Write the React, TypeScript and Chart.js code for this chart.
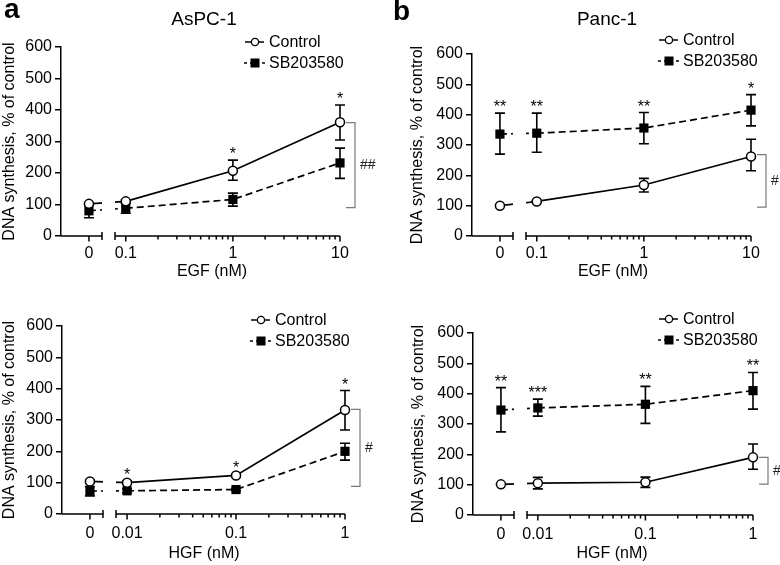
import React, { useEffect, useRef } from "react";
import { Chart, registerables } from "chart.js";

Chart.register(...registerables);

const FONT = "'Liberation Sans', Arial, Helvetica, sans-serif";
Chart.defaults.font.family = FONT;

// ---------------- data ----------------
const egfConc = [0, 0.1, 1, 10];
const egfTickLabels = ["0", "0.1", "1", "10"];
const hgfConc = [0, 0.01, 0.1, 1];
const hgfTickLabels = ["0", "0.01", "0.1", "1"];
const yTickValues = [0, 100, 200, 300, 400, 500, 600];
const seriesNames = ["Control", "SB203580"];

// AsPC-1, EGF
const aspcEgfControl = [102, 110, 207, 361];
const aspcEgfControlHi = [106, 115, 241, 416];
const aspcEgfControlLo = [98, 105, 177, 305];
const aspcEgfSB = [80, 88, 116, 232];
const aspcEgfSBHi = [102, 104, 136, 279];
const aspcEgfSBLo = [58, 72, 95, 183];
const aspcEgfStars = ["", "", "*", "*"];
const aspcEgfBracket = [360, 90];

// Panc-1, EGF
const pancEgfControl = [100, 114, 168, 262];
const pancEgfControlHi = [102, 117, 190, 319];
const pancEgfControlLo = [98, 111, 145, 215];
const pancEgfSB = [336, 339, 356, 415];
const pancEgfSBHi = [405, 405, 407, 466];
const pancEgfSBLo = [270, 276, 304, 363];
const pancEgfStars = ["**", "**", "**", "*"];
const pancEgfBracket = [268, 95];

// AsPC-1, HGF
const aspcHgfControl = [104, 100, 123, 332];
const aspcHgfControlHi = [108, 105, 127, 394];
const aspcHgfControlLo = [100, 95, 119, 268];
const aspcHgfSB = [73, 74, 78, 200];
const aspcHgfSBHi = [88, 80, 82, 226];
const aspcHgfSBLo = [58, 68, 74, 172];
const aspcHgfStars = ["", "*", "*", "*"];
const aspcHgfBracket = [334, 88];

// Panc-1, HGF
const pancHgfControl = [101, 105, 108, 190];
const pancHgfControlHi = [103, 124, 125, 234];
const pancHgfControlLo = [99, 86, 91, 151];
const pancHgfSB = [346, 353, 365, 410];
const pancHgfSBHi = [420, 382, 424, 470];
const pancHgfSBLo = [274, 326, 302, 349];
const pancHgfStars = ["**", "***", "**", "**"];
const pancHgfBracket = [190, 102];

// ---------------- panels ----------------
const panels = [
  {
    key: "aTop", letter: "a", title: "AsPC-1", xTitle: "EGF (nM)",
    conc: egfConc, tickLabels: egfTickLabels, logMin: 0.069,
    ctrl: aspcEgfControl, ctrlHi: aspcEgfControlHi, ctrlLo: aspcEgfControlLo,
    sb: aspcEgfSB, sbHi: aspcEgfSBHi, sbLo: aspcEgfSBLo,
    stars: aspcEgfStars, bracket: aspcEgfBracket, bracketLabel: "##",
    box: { left: 0, top: 0, width: 390, height: 280 },
    padLeft: 0, yWidth: 61, padTop: 47, padRight: 50, xHeight: 44, tickPad: 2,
    legend: { x: 269, y: 42 }, letterPos: { x: 4, y: 18 }, titlePos: { x: 204, y: 20 },
    xTitleX: 212, xTitleDy: 36,
  },
  {
    key: "bTop", letter: "b", title: "Panc-1", xTitle: "EGF (nM)",
    conc: egfConc, tickLabels: egfTickLabels, logMin: 0.069,
    ctrl: pancEgfControl, ctrlHi: pancEgfControlHi, ctrlLo: pancEgfControlLo,
    sb: pancEgfSB, sbHi: pancEgfSBHi, sbLo: pancEgfSBLo,
    stars: pancEgfStars, bracket: pancEgfBracket, bracketLabel: "#",
    box: { left: 390, top: 0, width: 390, height: 280 },
    padLeft: 18, yWidth: 64, padTop: 54, padRight: 29, xHeight: 44, tickPad: 2,
    legend: { x: 293, y: 40 }, letterPos: { x: 3, y: 20 }, titlePos: { x: 217, y: 20 },
    xTitleX: 223, xTitleDy: 36,
  },
  {
    key: "aBot", letter: "", title: "", xTitle: "HGF (nM)",
    conc: hgfConc, tickLabels: hgfTickLabels, logMin: 0.0069,
    ctrl: aspcHgfControl, ctrlHi: aspcHgfControlHi, ctrlLo: aspcHgfControlLo,
    sb: aspcHgfSB, sbHi: aspcHgfSBHi, sbLo: aspcHgfSBLo,
    stars: aspcHgfStars, bracket: aspcHgfBracket, bracketLabel: "#",
    box: { left: 0, top: 280, width: 390, height: 285 },
    padLeft: 0, yWidth: 62, padTop: 46, padRight: 45, xHeight: 51, tickPad: 4,
    legend: { x: 275, y: 40 }, letterPos: null, titlePos: null,
    xTitleX: 204, xTitleDy: 39.5,
  },
  {
    key: "bBot", letter: "", title: "", xTitle: "HGF (nM)",
    conc: hgfConc, tickLabels: hgfTickLabels, logMin: 0.0069,
    ctrl: pancHgfControl, ctrlHi: pancHgfControlHi, ctrlLo: pancHgfControlLo,
    sb: pancHgfSB, sbHi: pancHgfSBHi, sbLo: pancHgfSBLo,
    stars: pancHgfStars, bracket: pancHgfBracket, bracketLabel: "#",
    box: { left: 390, top: 280, width: 390, height: 285 },
    padLeft: 19, yWidth: 64, padTop: 53, padRight: 27, xHeight: 50, tickPad: 4,
    legend: { x: 293, y: 39 }, letterPos: null, titlePos: null,
    xTitleX: 222, xTitleDy: 38.5,
  },
];

const X0_WIDTH = 47.5; // width of the "0" segment of the broken axis
const GAP = 6.5; // half width of the axis break
const DASH = [7, 4];

const decoPlugin = {
  id: "deco",
  beforeDatasetsDraw(chart: any) {
    const p = chart.options.plugins.deco.panel;
    const ctx = chart.ctx;
    const xs = chart.scales.x, x0 = chart.scales.x0, ys = chart.scales.y;
    const ca = chart.chartArea;
    const px = (c: number) => (c === 0 ? x0.getPixelForValue(0) : xs.getPixelForValue(c));
    ctx.save();
    ctx.strokeStyle = "#000";
    ctx.lineWidth = 1.6;
    ctx.setLineDash([]);
    const series = [[p.ctrlHi, p.ctrlLo], [p.sbHi, p.sbLo]];
    for (const [hi, lo] of series) {
      p.conc.forEach((c: number, i: number) => {
        const x = px(c);
        const yh = ys.getPixelForValue(hi[i]);
        const yl = ys.getPixelForValue(lo[i]);
        ctx.beginPath();
        ctx.moveTo(x, yh); ctx.lineTo(x, yl);
        ctx.moveTo(x - 5, yh); ctx.lineTo(x + 5, yh);
        ctx.moveTo(x - 5, yl); ctx.lineTo(x + 5, yl);
        ctx.stroke();
      });
    }
    // segments crossing the axis break
    const S = xs.left;
    ctx.beginPath();
    ctx.rect(ca.left, ca.top - 30, S - GAP - ca.left, ca.bottom - ca.top + 30);
    ctx.rect(S + GAP, ca.top - 30, ca.right - S - GAP, ca.bottom - ca.top + 30);
    ctx.clip();
    const zi = p.conc.indexOf(0);
    const fi = zi + 1;
    const lines: [number[], number[]][] = [[p.ctrl, []], [p.sb, DASH]];
    for (const [vals, dash] of lines) {
      ctx.setLineDash(dash);
      ctx.beginPath();
      ctx.moveTo(px(p.conc[zi]), ys.getPixelForValue(vals[zi]));
      ctx.lineTo(px(p.conc[fi]), ys.getPixelForValue(vals[fi]));
      ctx.stroke();
    }
    ctx.restore();
  },
  afterDraw(chart: any) {
    const p = chart.options.plugins.deco.panel;
    const ctx = chart.ctx;
    const xs = chart.scales.x, x0 = chart.scales.x0, ys = chart.scales.y;
    const ca = chart.chartArea;
    const px = (c: number) => (c === 0 ? x0.getPixelForValue(0) : xs.getPixelForValue(c));
    ctx.save();
    ctx.setLineDash([]);
    ctx.strokeStyle = "#000";
    ctx.fillStyle = "#000";
    ctx.lineWidth = 1.5;
    // broken x axis
    const yb = ca.bottom;
    const S = xs.left;
    ctx.beginPath();
    ctx.moveTo(ca.left, yb); ctx.lineTo(S - GAP, yb);
    ctx.moveTo(S + GAP, yb); ctx.lineTo(ca.right, yb);
    ctx.moveTo(S - GAP, yb - 4); ctx.lineTo(S - GAP, yb + 4);
    ctx.moveTo(S + GAP, yb - 4); ctx.lineTo(S + GAP, yb + 4);
    // tick at 0
    const zx = x0.getPixelForValue(0);
    ctx.moveTo(zx, yb); ctx.lineTo(zx, yb + 5.5);
    // log ticks
    const pos = p.conc.filter((c: number) => c > 0);
    const first = pos[0], last = pos[pos.length - 1];
    pos.forEach((c: number) => {
      const x = xs.getPixelForValue(c);
      ctx.moveTo(x, yb); ctx.lineTo(x, yb + 5.5);
    });
    for (let d = first; d < last * 0.999; d *= 10) {
      for (let m = 2; m <= 9; m++) {
        const x = xs.getPixelForValue(d * m);
        ctx.moveTo(x, yb); ctx.lineTo(x, yb + 3.5);
      }
    }
    ctx.stroke();

    // x title
    ctx.font = `16px ${FONT}`;
    ctx.textAlign = "center";
    ctx.textBaseline = "middle";
    ctx.fillText(p.xTitle, p.xTitleX, yb + p.xTitleDy);

    // panel letter and title
    if (p.letterPos) {
      ctx.font = `bold 28px ${FONT}`;
      ctx.textAlign = "left";
      ctx.textBaseline = "alphabetic";
      ctx.fillText(p.letter, p.letterPos.x, p.letterPos.y);
    }
    if (p.titlePos) {
      ctx.font = `19px ${FONT}`;
      ctx.textAlign = "center";
      ctx.textBaseline = "middle";
      ctx.fillText(p.title, p.titlePos.x, p.titlePos.y);
    }

    // stars
    ctx.font = `16px ${FONT}`;
    ctx.textAlign = "center";
    ctx.textBaseline = "alphabetic";
    p.stars.forEach((s: string, i: number) => {
      if (!s) return;
      const top = Math.max(p.ctrlHi[i], p.sbHi[i]);
      ctx.fillText(s, px(p.conc[i]), ys.getPixelForValue(top) - 1);
    });

    // bracket
    const bx = ca.right + 15;
    const yt = ys.getPixelForValue(p.bracket[0]);
    const ybk = ys.getPixelForValue(p.bracket[1]);
    ctx.strokeStyle = "#7a7a7a";
    ctx.lineWidth = 1.2;
    ctx.beginPath();
    ctx.moveTo(bx - 9, yt); ctx.lineTo(bx, yt); ctx.lineTo(bx, ybk); ctx.lineTo(bx - 9, ybk);
    ctx.stroke();
    ctx.fillStyle = "#222";
    ctx.font = `14px ${FONT}`;
    ctx.textAlign = "left";
    ctx.textBaseline = "middle";
    ctx.fillText(p.bracketLabel, bx + 5, (yt + ybk) / 2);

    // legend
    const lg = p.legend;
    const rowGap = 21;
    ctx.fillStyle = "#000";
    ctx.strokeStyle = "#000";
    ctx.lineWidth = 1.5;
    ctx.beginPath();
    ctx.moveTo(lg.x - 24, lg.y); ctx.lineTo(lg.x - 5, lg.y);
    ctx.stroke();
    ctx.beginPath();
    ctx.arc(lg.x - 14, lg.y, 3.6, 0, Math.PI * 2);
    ctx.fillStyle = "#fff";
    ctx.fill();
    ctx.lineWidth = 1.3;
    ctx.stroke();
    const y2 = lg.y + rowGap;
    ctx.lineWidth = 1.5;
    ctx.setLineDash([3, 3]);
    ctx.beginPath();
    ctx.moveTo(lg.x - 25, y2); ctx.lineTo(lg.x - 4, y2);
    ctx.stroke();
    ctx.setLineDash([]);
    ctx.fillStyle = "#000";
    ctx.fillRect(lg.x - 18.5, y2 - 4.5, 9, 9);
    ctx.font = `16px ${FONT}`;
    ctx.textAlign = "left";
    ctx.textBaseline = "middle";
    ctx.fillText(seriesNames[0], lg.x, lg.y + 1);
    ctx.fillText(seriesNames[1], lg.x, y2 + 1);
    ctx.restore();
  },
};

function buildConfig(p: any) {
  const W = p.box.width - p.padLeft - p.yWidth - p.padRight;
  const idx = p.conc.map((_: number, i: number) => i);
  const zeroIdx = idx.filter((i: number) => p.conc[i] === 0);
  const posIdx = idx.filter((i: number) => p.conc[i] > 0);
  const pts = (vals: number[], ids: number[]) => ids.map((i) => ({ x: p.conc[i], y: vals[i] }));
  const posConc = posIdx.map((i: number) => p.conc[i]);
  const ctrlStyle = {
    borderColor: "#000", borderWidth: 1.7, pointStyle: "circle", pointRadius: 4.5,
    pointBackgroundColor: "#fff", pointBorderColor: "#000", pointBorderWidth: 1.5,
    fill: false, tension: 0, clip: false,
  };
  const sbStyle = {
    borderColor: "#000", borderWidth: 1.7, borderDash: DASH, pointStyle: "rect", pointRadius: 6.5,
    pointBackgroundColor: "#000", pointBorderColor: "#000", pointBorderWidth: 0,
    fill: false, tension: 0, clip: false,
  };
  const tickFont = { family: FONT, size: 16 };
  return {
    type: "line",
    data: {
      datasets: [
        { label: seriesNames[0], data: pts(p.ctrl, posIdx), xAxisID: "x", ...ctrlStyle },
        { label: seriesNames[0] + " 0", data: pts(p.ctrl, zeroIdx), xAxisID: "x0", showLine: false, ...ctrlStyle },
        { label: seriesNames[1], data: pts(p.sb, posIdx), xAxisID: "x", ...sbStyle },
        { label: seriesNames[1] + " 0", data: pts(p.sb, zeroIdx), xAxisID: "x0", showLine: false, ...sbStyle },
      ],
    },
    options: {
      responsive: false,
      maintainAspectRatio: false,
      animation: false,
      events: [],
      layout: { padding: { left: p.padLeft, top: p.padTop, right: p.padRight, bottom: 0 } },
      plugins: {
        legend: { display: false },
        tooltip: { enabled: false },
        deco: { panel: p },
      },
      scales: {
        x0: {
          type: "linear", position: "bottom", stack: "xs", stackWeight: X0_WIDTH,
          min: -1, max: 0.7,
          afterBuildTicks: (s: any) => { s.ticks = zeroIdx.map((i: number) => ({ value: p.conc[i] })); },
          afterFit: (s: any) => { s.height = p.xHeight; },
          grid: { display: false, drawTicks: true, tickLength: 6 },
          border: { display: false },
          ticks: {
            callback: () => p.tickLabels[zeroIdx[0]],
            font: tickFont, color: "#000", padding: p.tickPad, maxRotation: 0, autoSkip: false,
          },
        },
        x: {
          type: "logarithmic", position: "bottom", stack: "xs", stackWeight: W - X0_WIDTH,
          min: p.logMin, max: posConc[posConc.length - 1],
          afterBuildTicks: (s: any) => { s.ticks = posConc.map((v: number) => ({ value: v })); },
          afterFit: (s: any) => { s.height = p.xHeight; },
          grid: { display: false, drawTicks: true, tickLength: 6 },
          border: { display: false },
          ticks: {
            callback: (v: number) => {
              const i = p.conc.findIndex((c: number) => Math.abs(c - v) < 1e-9);
              return i >= 0 ? p.tickLabels[i] : "";
            },
            font: tickFont, color: "#000", padding: p.tickPad, maxRotation: 0, autoSkip: false,
          },
        },
        y: {
          type: "linear", position: "left", min: 0, max: 600,
          afterBuildTicks: (s: any) => { s.ticks = yTickValues.map((v) => ({ value: v })); },
          afterFit: (s: any) => { s.width = p.yWidth; },
          grid: { drawOnChartArea: false, drawTicks: true, tickLength: 6, color: "#000", lineWidth: 1.5 },
          border: { display: true, color: "#000", width: 1.5 },
          ticks: { font: tickFont, color: "#000", padding: 3 },
          title: {
            display: true, text: "DNA synthesis, % of control",
            font: { family: FONT, size: 16, lineHeight: 1.2 }, color: "#000", padding: 0,
          },
        },
      },
    },
    plugins: [decoPlugin],
  };
}

function PanelChart({ p }: { p: any }) {
  const ref = useRef<HTMLCanvasElement | null>(null);
  useEffect(() => {
    if (!ref.current) return;
    const chart = new Chart(ref.current, buildConfig(p) as any);
    return () => chart.destroy();
  }, [p]);
  return (
    <canvas
      ref={ref}
      width={p.box.width}
      height={p.box.height}
      style={{ position: "absolute", left: p.box.left, top: p.box.top, width: p.box.width, height: p.box.height, display: "block" }}
    />
  );
}

export default function App() {
  return (
    <div style={{ position: "absolute", left: 0, top: 0, width: 780, height: 565, background: "#fff", overflow: "hidden" }}>
      {panels.map((p) => (
        <PanelChart key={p.key} p={p} />
      ))}
    </div>
  );
}
